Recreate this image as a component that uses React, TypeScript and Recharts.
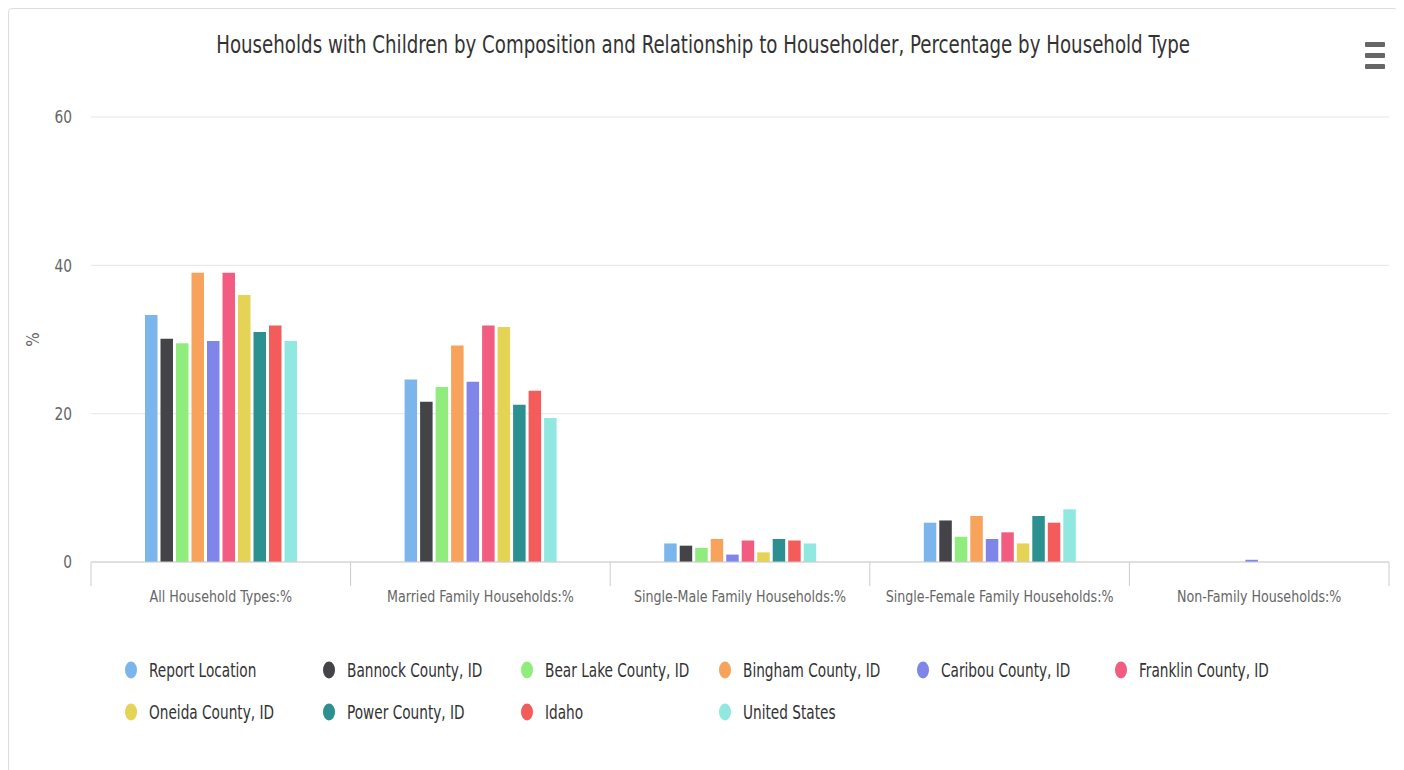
import React from 'react';
import { BarChart, Bar, XAxis, YAxis, CartesianGrid, Legend, Label } from 'recharts';

const categories = [
  'All Household Types:%',
  'Married Family Households:%',
  'Single-Male Family Households:%',
  'Single-Female Family Households:%',
  'Non-Family Households:%',
];

const reportLocation = [33.3, 24.6, 2.5, 5.3, 0];
const bannock = [30.1, 21.6, 2.2, 5.6, 0];
const bearLake = [29.5, 23.6, 1.9, 3.4, 0];
const bingham = [39.0, 29.2, 3.1, 6.2, 0];
const caribou = [29.8, 24.3, 1.0, 3.1, 0.3];
const franklin = [39.0, 31.9, 2.9, 4.0, 0];
const oneida = [36.0, 31.7, 1.3, 2.5, 0];
const power = [31.0, 21.2, 3.1, 6.2, 0];
const idaho = [31.9, 23.1, 2.9, 5.3, 0];
const unitedStates = [29.8, 19.4, 2.5, 7.1, 0];

const yTicks = [0, 20, 40, 60];

const series = [
  { key: 'r', name: 'Report Location', values: reportLocation, color: '#7cb5ec' },
  { key: 'b', name: 'Bannock County, ID', values: bannock, color: '#434348' },
  { key: 'bl', name: 'Bear Lake County, ID', values: bearLake, color: '#90ed7d' },
  { key: 'bi', name: 'Bingham County, ID', values: bingham, color: '#f7a35c' },
  { key: 'c', name: 'Caribou County, ID', values: caribou, color: '#8085e9' },
  { key: 'f', name: 'Franklin County, ID', values: franklin, color: '#f15c80' },
  { key: 'o', name: 'Oneida County, ID', values: oneida, color: '#e4d354' },
  { key: 'p', name: 'Power County, ID', values: power, color: '#2b908f' },
  { key: 'i', name: 'Idaho', values: idaho, color: '#f45b5b' },
  { key: 'u', name: 'United States', values: unitedStates, color: '#91e8e1' },
];

const data = categories.map((cat, idx) => {
  const row: Record<string, any> = { category: cat };
  series.forEach((s) => {
    row[s.key] = s.values[idx];
  });
  return row;
});

const FONT = "'DejaVu Sans Condensed', 'DejaVu Sans', sans-serif";
const CHART_W = 1388;
const CHART_H = 768;
const MARGIN = { top: 108, right: 8, left: 0, bottom: 155 };
const Y_AXIS_W = 82;
const PLOT_W = CHART_W - MARGIN.left - MARGIN.right - Y_AXIS_W;
const BAND = PLOT_W / categories.length;

const XTick = (props: any) => {
  const { x, y, payload, index } = props;
  const left = x - BAND / 2;
  const right = x + BAND / 2;
  return (
    <g>
      <line x1={left} y1={y} x2={left} y2={y + 24} stroke="#ccc" strokeWidth={1} />
      {index === categories.length - 1 && (
        <line x1={right} y1={y} x2={right} y2={y + 24} stroke="#ccc" strokeWidth={1} />
      )}
      <text
        x={0}
        y={0}
        transform={`translate(${x},${y + 35}) scale(0.88,1)`}
        textAnchor="middle"
        dominantBaseline="central"
        fill="#666"
        fontSize={16}
        fontFamily={FONT}
      >
        {payload.value}
      </text>
    </g>
  );
};

const YTick = (props: any) => {
  const { x, y, payload } = props;
  return (
    <text
      x={0}
      y={0}
      transform={`translate(${x},${y}) scale(0.85,1)`}
      textAnchor="end"
      dominantBaseline="central"
      fill="#666"
      fontSize={18}
      fontFamily={FONT}
    >
      {payload.value}
    </text>
  );
};

const LegendContent = () => (
  <div style={{ display: 'flex', flexWrap: 'wrap', width: 198 * 6 }}>
    {series.map((s) => (
      <div key={s.key} style={{ width: 198, height: 42, display: 'flex', alignItems: 'center' }}>
        <svg width={14} height={18} style={{ flex: 'none' }}>
          <ellipse cx={7} cy={9} rx={6} ry={8.5} fill={s.color} />
        </svg>
        <span
          style={{
            marginLeft: 11,
            fontFamily: FONT,
            fontSize: 19,
            color: '#333',
            whiteSpace: 'nowrap',
            display: 'inline-block',
            transform: 'scaleX(0.8)',
            transformOrigin: 'left center',
          }}
        >
          {s.name}
        </span>
      </div>
    ))}
  </div>
);

export default function App() {
  return (
    <div
      style={{
        position: 'relative',
        width: 1390,
        height: 770,
        boxSizing: 'border-box',
        border: '1px solid #ddd',
        borderRadius: 4,
        background: '#fff',
      }}
    >
      <div
        style={{
          position: 'absolute',
          top: 18,
          left: 0,
          width: '100%',
          textAlign: 'center',
          zIndex: 2,
        }}
      >
        <span
          style={{
            display: 'inline-block',
            fontFamily: FONT,
            fontSize: 25,
            color: '#333',
            lineHeight: '36px',
            whiteSpace: 'nowrap',
            transform: 'scaleX(0.81)',
            transformOrigin: 'center center',
          }}
        >
          Households with Children by Composition and Relationship to Householder, Percentage by Household Type
        </span>
      </div>
      <div style={{ position: 'absolute', left: 1356, top: 33, width: 20, zIndex: 2 }}>
        {[0, 1, 2].map((i) => (
          <div key={i} style={{ width: 20, height: 5, background: '#666', borderRadius: 1, marginBottom: 6 }} />
        ))}
      </div>
      <BarChart
        width={CHART_W}
        height={CHART_H}
        data={data}
        margin={MARGIN}
        barSize={12.5}
        barGap={3}
      >
        <CartesianGrid horizontal vertical={false} stroke="#e6e6e6" />
        <XAxis
          dataKey="category"
          interval={0}
          height={60}
          tickSize={0}
          tickMargin={0}
          tickLine={false}
          axisLine={{ stroke: '#ccc' }}
          tick={<XTick />}
        />
        <YAxis
          width={Y_AXIS_W}
          domain={[0, 60]}
          ticks={yTicks}
          tickSize={0}
          tickMargin={19}
          axisLine={false}
          tickLine={false}
          tick={<YTick />}
        >
          <Label value="%" angle={-90} position="center" dx={-17} fill="#666" fontSize={17} fontFamily={FONT} />
        </YAxis>
        {series.map((s) => (
          <Bar key={s.key} dataKey={s.key} name={s.name} fill={s.color} isAnimationActive={false} />
        ))}
        <Legend
          layout="horizontal"
          verticalAlign="middle"
          align="center"
          content={<LegendContent />}
          wrapperStyle={{ position: 'absolute', top: 640, left: 115, width: 198 * 6, height: 84 }}
        />
      </BarChart>
    </div>
  );
}
